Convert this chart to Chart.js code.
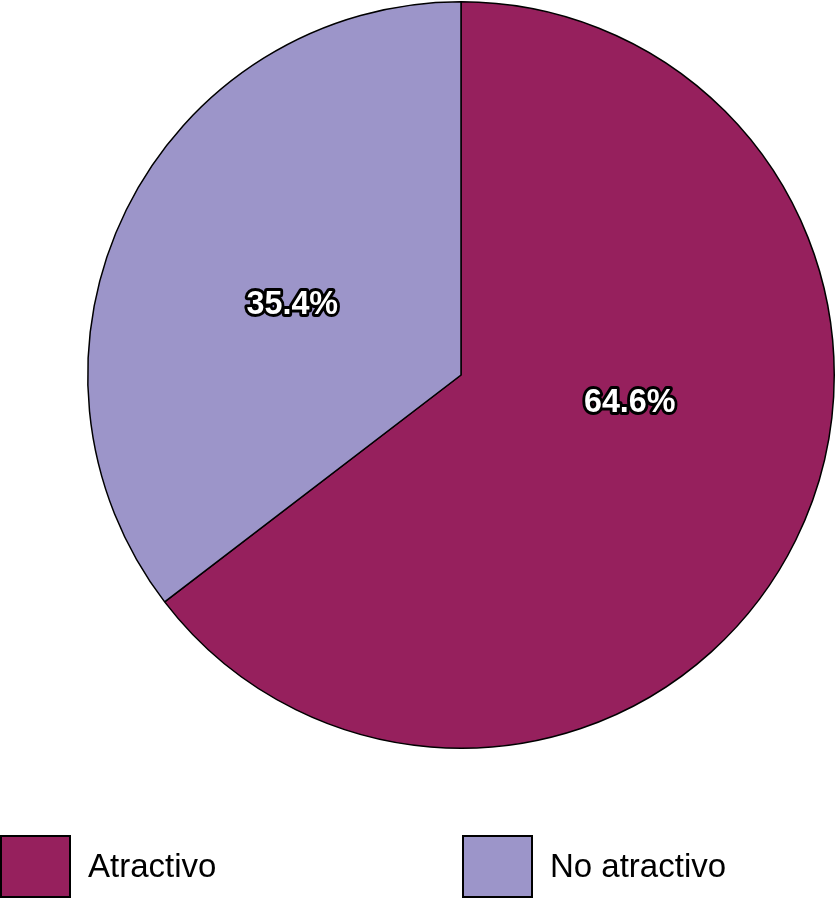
<!DOCTYPE html>
<html>
<head>
<meta charset="utf-8">
<script src="https://cdn.jsdelivr.net/npm/chart.js@4.4.0/dist/chart.umd.min.js"></script>
<style>
    html, body { margin: 0; padding: 0; background: #fff; }
    #wrap { width: 838px; height: 899px; position: relative; }
</style>
</head>
<body>
<div id="wrap"><canvas id="pieChart"></canvas></div>
<script>
var categories = ["Atractivo", "No atractivo"];
var percentages = [64.6, 35.4];
var sliceColors = ["#96205d", "#9c95c9"];

// where the percent label sits inside each slice, as a fraction of the radius
var labelOffsets = [[0.452, 0.07], [-0.452, -0.19]];

var pieLabels = {
    id: "pieLabels",
    afterDatasetsDraw(chart) {
        var ctx = chart.ctx;
        var meta = chart.getDatasetMeta(0);
        meta.data.forEach((arc, i) => {
            var r = arc.outerRadius;
            var x = arc.x + labelOffsets[i][0] * r;
            var y = arc.y + labelOffsets[i][1] * r;
            var txt = percentages[i].toFixed(1) + "%";
            ctx.save();
            ctx.translate(x, y);
            ctx.scale(0.95, 1);
            ctx.font = "bold 34px Arial, 'Liberation Sans', sans-serif";
            ctx.textAlign = "center";
            ctx.textBaseline = "middle";
            ctx.lineJoin = "round";
            ctx.strokeStyle = "#000";
            ctx.lineWidth = 6;
            ctx.strokeText(txt, 0, 1);
            ctx.fillStyle = "#fff";
            ctx.fillText(txt, 0, 1);
            ctx.restore();
        });
    }
};

var bottomLegend = {
    id: "bottomLegend",
    afterDraw(chart) {
        var ctx = chart.ctx;
        var colX = [1, 463];
        var boxW = 69, boxH = 61, top = 836;
        ctx.save();
        ctx.font = "33px 'Liberation Sans', Arial, sans-serif";
        ctx.textBaseline = "middle";
        categories.forEach((name, i) => {
            ctx.fillStyle = sliceColors[i];
            ctx.fillRect(colX[i], top, boxW, boxH);
            ctx.strokeStyle = "#000";
            ctx.lineWidth = 2;
            ctx.strokeRect(colX[i], top, boxW, boxH);
            ctx.fillStyle = "#000";
            ctx.fillText(name, colX[i] + boxW + 18, top + boxH / 2 + 1);
        });
        ctx.restore();
    }
};

new Chart(document.getElementById("pieChart"), {
    type: "pie",
    data: {
        labels: categories,
        datasets: [{
            data: percentages,
            backgroundColor: sliceColors,
            borderColor: "#000",
            borderWidth: 1.5
        }]
    },
    options: {
        responsive: true,
        maintainAspectRatio: false,
        animation: false,
        layout: { padding: { left: 87, right: 3, top: 1, bottom: 150 } },
        plugins: {
            legend: { display: false },
            tooltip: { enabled: false }
        }
    },
    plugins: [pieLabels, bottomLegend]
});
</script>
</body>
</html>
